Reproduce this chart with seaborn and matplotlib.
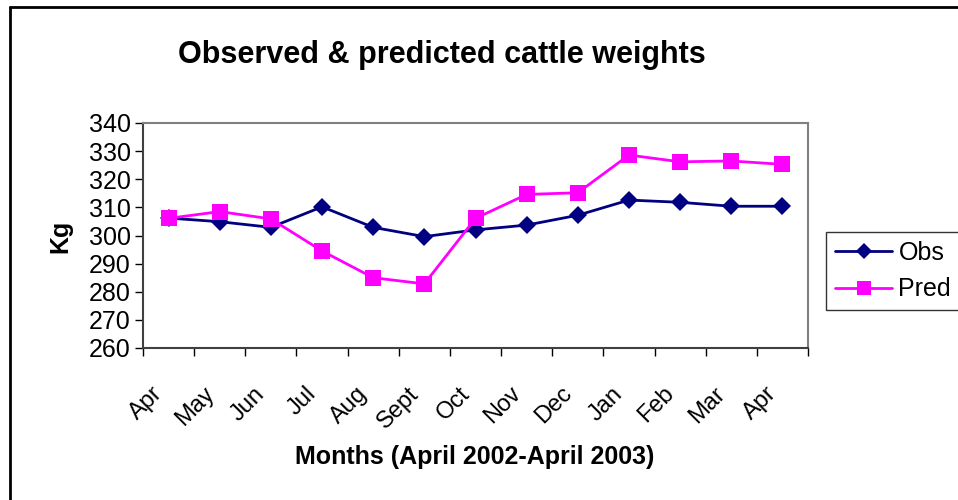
import pandas as pd
import matplotlib.pyplot as plt
import matplotlib.transforms as mtransforms
import seaborn as sns
from matplotlib.lines import Line2D

months = ['Apr', 'May', 'Jun', 'Jul', 'Aug', 'Sept', 'Oct', 'Nov', 'Dec', 'Jan', 'Feb', 'Mar', 'Apr']
obs = [306.2, 304.9, 302.9, 310.2, 302.9, 299.6, 302.0, 303.7, 307.2, 312.6, 311.8, 310.4, 310.4]
pred = [306.1, 308.5, 305.9, 294.5, 285.0, 282.8, 306.1, 314.6, 315.2, 328.6, 326.2, 326.5, 325.3]

df = pd.DataFrame({'idx': list(range(len(months))) * 2,
                   'Kg': obs + pred,
                   'series': ['Obs'] * len(obs) + ['Pred'] * len(pred)})

sns.set_style('white')
plt.rcParams['font.family'] = ['Liberation Sans', 'DejaVu Sans']
plt.rcParams['text.color'] = 'black'
plt.rcParams['xtick.color'] = 'black'
plt.rcParams['ytick.color'] = 'black'
plt.rcParams['axes.labelcolor'] = 'black'

fig = plt.figure(figsize=(9.58, 5.0), dpi=100)
ax = fig.add_axes([143 / 958, 1 - 348 / 500, 665 / 958, 225 / 500])

ax = sns.lineplot(data=df, x='idx', y='Kg', hue='series', style='series',
                  palette={'Obs': '#000080', 'Pred': '#FF00FF'},
                  markers={'Obs': 'D', 'Pred': 's'}, dashes=False,
                  markersize=11, linewidth=2.0, markeredgewidth=0, ax=ax, legend=False)
for ln, ms in zip(ax.get_lines(), [9, 11]):
    ln.set_markersize(ms)

ax.set_xlim(-0.5, len(months) - 0.5)
ax.set_ylim(260, 340)
ax.set_yticks(range(260, 341, 10))
ax.set_xticks(range(len(months)))
ax.set_xticklabels(months, rotation=45, ha='right', rotation_mode='anchor')
ax.set_xticks([i - 0.5 for i in range(len(months) + 1)], minor=True)
ax.tick_params(axis='x', which='major', length=0, pad=25, labelsize=17)
ax.tick_params(axis='x', which='minor', length=6, width=1, color='black', direction='out', bottom=True)
ax.tick_params(axis='y', length=6, width=1, color='black', direction='out', left=True, labelsize=18, pad=3)

# Excel-style: rotated month labels sit a bit left of their category centre
shift = mtransforms.ScaledTranslation(-17 / 100, 0, fig.dpi_scale_trans)
for lbl in ax.get_xticklabels():
    lbl.set_transform(lbl.get_transform() + shift)

for sp in ax.spines.values():
    sp.set_color('#808080')
    sp.set_linewidth(1.5)
ax.spines['left'].set_color('#404040')
ax.spines['bottom'].set_color('#404040')

ax.set_xlabel('Months (April 2002-April 2003)', fontsize=18, fontweight='bold')
ax.xaxis.set_label_coords((475 - 143) / 665, (348 - 457) / 225)
ax.xaxis.label.set_va('center')
ax.set_ylabel('Kg', fontsize=18, fontweight='bold')
ax.yaxis.set_label_coords((60 - 143) / 665, (348 - 236) / 225)
ax.yaxis.label.set_va('center')
fig.text(442 / 958, 1 - 55 / 500, 'Observed & predicted cattle weights',
         ha='center', va='center', fontsize=22, fontweight='bold')

handles = [Line2D([], [], color='#000080', marker='D', markersize=8, linewidth=2, markeredgewidth=0),
           Line2D([], [], color='#FF00FF', marker='s', markersize=10, linewidth=2, markeredgewidth=0)]
leg = fig.legend(handles, ['Obs', 'Pred'], loc='upper left',
                 bbox_to_anchor=(826 / 958, 1 - 232 / 500), borderaxespad=0,
                 fontsize=18, frameon=True, fancybox=False, handlelength=2.3,
                 handletextpad=0.25, labelspacing=0.5, borderpad=0.35)
leg.get_frame().set_edgecolor('black')
leg.get_frame().set_linewidth(1)

# outer chart border (top and left visible)
fig.add_artist(Line2D([9.5 / 958, 9.5 / 958], [0, 1 - 6.5 / 500], color='black', linewidth=2, transform=fig.transFigure))
fig.add_artist(Line2D([9.5 / 958, 1], [1 - 6.5 / 500, 1 - 6.5 / 500], color='black', linewidth=2, transform=fig.transFigure))

fig.savefig('out.png', dpi=100)
